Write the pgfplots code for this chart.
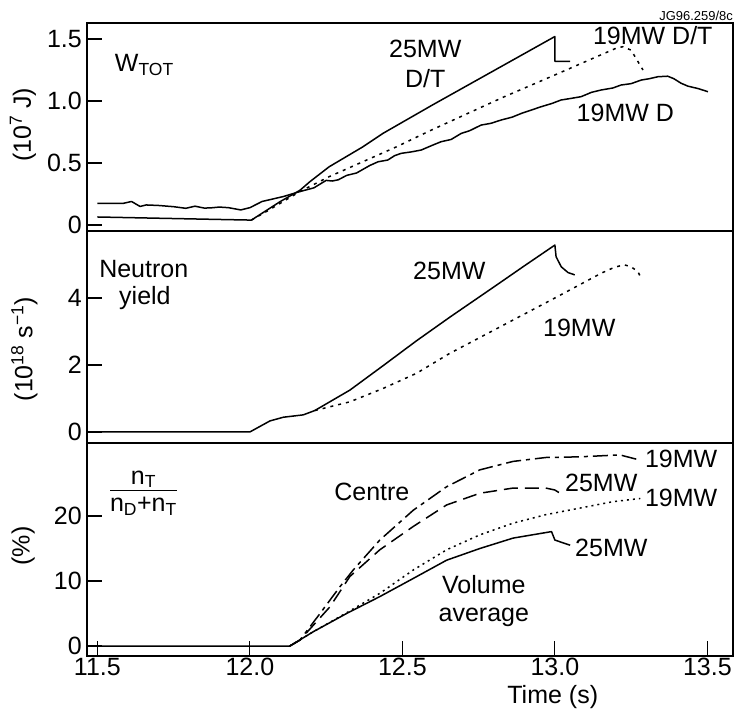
\documentclass[border=0pt]{standalone}
\usepackage{fontspec}
\setmainfont{Liberation Sans}
\usepackage{pgfplots}
\pgfplotsset{compat=1.18}
\newcommand\fs{\fontsize{25bp}{29bp}\selectfont}
\tikzset{lbl/.style={font=\fs, inner sep=0pt}}
\pgfplotsset{panel/.style={scale only axis, width=646bp, xmin=11.466, xmax=13.584,
  axis line style={line width=1.3bp}, tick align=inside, major tick length=15bp,
  tick style={line width=1.2bp, black}, ytick pos=left, xtick pos=bottom,
  clip mode=individual,
  yticklabel style={font=\fs, inner sep=0pt, xshift=-5bp},
  xticklabel style={font=\fs, inner sep=0pt, yshift=-2bp}},
  curve/.style={line width=1.5bp, black, mark=none, line join=round},
  dotA/.style={curve, dash pattern=on 3bp off 5bp},
  dotB/.style={curve, dash pattern=on 2bp off 4bp},
  dashA/.style={curve, dash pattern=on 14bp off 7bp},
  dashdotA/.style={curve, dash pattern=on 15bp off 5bp on 4bp off 5bp}}
\begin{document}
\begin{tikzpicture}
\path[use as bounding box] (0,0) rectangle (736bp,-719bp);
% ---------------- Panel 1
\begin{axis}[panel, at={(87bp,-231bp)}, anchor=south west, height=208bp,
  ymin=-0.048, ymax=1.629, ytick={0,0.5,1,1.5}, yticklabels={0,0.5,1.0,1.5},
  xtick=\empty]
\addplot[curve] coordinates {(11.5,0.065) (11.7,0.055) (11.9,0.045) (12.005,0.04) (12.1,0.19) (12.164,0.28) (12.197,0.35) (12.26,0.47) (12.37,0.63) (12.437,0.74) (12.6,0.97) (12.8,1.245) (13.0,1.52) (13.0,1.32) (13.05,1.32)};
\addplot[dotA] coordinates {(12.005,0.04) (12.055,0.11) (12.164,0.27) (12.26,0.39) (12.37,0.51) (12.48,0.63) (12.59,0.76) (12.83,1.03) (13.0,1.21) (13.2,1.425) (13.223,1.438) (13.25,1.41) (13.267,1.34) (13.289,1.25)};
\addplot[curve] coordinates {(11.5,0.175) (11.585,0.175) (11.612,0.19) (11.64,0.15) (11.66,0.162) (11.70,0.158) (11.75,0.148) (11.79,0.135) (11.82,0.152) (11.85,0.137) (11.87,0.138) (11.90,0.145) (11.93,0.140) (11.97,0.122) (12.00,0.140) (12.04,0.19) (12.11,0.23) (12.164,0.27) (12.21,0.30) (12.25,0.36) (12.27,0.355) (12.29,0.365) (12.317,0.40) (12.35,0.42) (12.393,0.48) (12.42,0.51) (12.452,0.524) (12.475,0.56) (12.496,0.578) (12.53,0.59) (12.562,0.605) (12.6,0.645) (12.627,0.672) (12.66,0.69) (12.693,0.739) (12.72,0.76) (12.758,0.806) (12.79,0.82) (12.824,0.847) (12.86,0.87) (12.89,0.90) (12.92,0.925) (12.955,0.954) (12.99,0.98) (13.02,1.008) (13.05,1.02) (13.086,1.035) (13.12,1.07) (13.152,1.089) (13.19,1.105) (13.217,1.129) (13.25,1.14) (13.283,1.169) (13.31,1.18) (13.338,1.196) (13.37,1.20) (13.39,1.18) (13.414,1.143) (13.436,1.12) (13.47,1.10) (13.502,1.075)};
\node[lbl, anchor=base west] at (axis cs:11.557,1.234) {W\textsubscript{TOT}};
\node[lbl, anchor=base] at (axis cs:12.575,1.347) {25MW};
\node[lbl, anchor=base] at (axis cs:12.575,1.105) {D/T};
\node[lbl, anchor=base] at (axis cs:13.321,1.452) {19MW D/T};
\node[lbl, anchor=base] at (axis cs:13.231,0.831) {19MW D};
\node[lbl, rotate=90] at (rel axis cs:-0.099,0.51) {(10\textsuperscript{7} J)};
\node[font=\fontsize{13}{15}\selectfont, anchor=base east, inner sep=0pt] at (rel axis cs:1,1.0144) {JG96.259/8c};
\end{axis}
% ---------------- Panel 2
\begin{axis}[panel, at={(87bp,-443bp)}, anchor=south west, height=212bp,
  ymin=-0.33, ymax=6.0, ytick={0,2,4}, yticklabels={0,2,4}, xtick=\empty]
\addplot[curve] coordinates {(11.5,0) (12.0,0) (12.066,0.33) (12.11,0.44) (12.175,0.51) (12.213,0.64) (12.328,1.25) (12.437,1.98) (12.546,2.72) (12.656,3.43) (12.8,4.33) (12.9,4.96) (13.0,5.58) (13.004,5.23) (13.021,4.93) (13.043,4.76) (13.065,4.69)};
\addplot[dotA] coordinates {(12.213,0.64) (12.328,0.90) (12.437,1.30) (12.546,1.75) (12.656,2.35) (12.8,3.04) (13.0,4.0) (13.152,4.74) (13.196,4.92) (13.228,4.99) (13.25,4.93) (13.272,4.79) (13.283,4.59)};
\node[lbl, anchor=base] at (axis cs:11.652,4.60) {Neutron};
\node[lbl, anchor=base] at (axis cs:11.656,3.82) {yield};
\node[lbl, anchor=base] at (axis cs:12.654,4.54) {25MW};
\node[lbl, anchor=base] at (axis cs:13.08,2.84) {19MW};
\node[lbl, rotate=90] at (rel axis cs:-0.097,0.443) {(10\textsuperscript{18} s\textsuperscript{−1})};
\end{axis}
% ---------------- Panel 3
\begin{axis}[panel, at={(87bp,-656bp)}, anchor=south west, height=213bp,
  ymin=-1.54, ymax=31.23, ytick={0,10,20}, yticklabels={0,10,20},
  xtick={11.5,12,12.5,13,13.5}, xticklabels={11.5,12.0,12.5,13.0,13.5}]
\addplot[curve] coordinates {(11.5,0) (12.131,0) (12.208,2.2) (12.317,5.0) (12.426,7.6) (12.536,10.4) (12.645,13.2) (12.754,15.0) (12.863,16.6) (12.989,17.6) (13.0,16.3) (13.05,15.5)};
\addplot[dotB] coordinates {(12.131,0) (12.208,2.2) (12.317,5.1) (12.426,8.1) (12.536,11.7) (12.645,14.8) (12.754,17.1) (12.863,18.9) (12.97,20.2) (13.08,21.2) (13.19,22.2) (13.28,22.7)};
\addplot[dashA] coordinates {(12.131,0) (12.164,0.9) (12.262,6.0) (12.328,10.7) (12.426,14.8) (12.536,18.4) (12.645,21.7) (12.754,23.5) (12.863,24.3) (12.97,24.3) (13.0,24.0) (13.027,23.2)};
\addplot[dashdotA] coordinates {(12.131,0) (12.164,0.9) (12.23,5.0) (12.295,9.1) (12.339,11.7) (12.426,16.3) (12.536,20.9) (12.645,24.5) (12.754,27.1) (12.863,28.4) (12.97,29.0) (13.08,29.1) (13.213,29.4) (13.279,28.6)};
\node[lbl] at (axis cs:11.651,23.7) {\begin{tabular}{@{}c@{}}n\textsubscript{T}\\[-3pt]\hline\rule{0pt}{21bp}n\textsubscript{D}+n\textsubscript{T}\end{tabular}};
\node[lbl, anchor=base] at (axis cs:12.40,22.46) {Centre};
\node[lbl, align=center] at (axis cs:12.767,6.9) {Volume\\[-1bp]average};
\node[lbl, anchor=base west] at (axis cs:13.295,27.5) {19MW};
\node[lbl, anchor=base west] at (axis cs:13.033,23.7) {25MW};
\node[lbl, anchor=base west] at (axis cs:13.295,21.4) {19MW};
\node[lbl, anchor=base west] at (axis cs:13.066,13.7) {25MW};
\node[lbl, rotate=90] at (rel axis cs:-0.099,0.516) {(\%)};
\node[lbl, anchor=base] at (axis cs:12.993,-8.77) {Time (s)};
\end{axis}
\end{tikzpicture}
\end{document}
